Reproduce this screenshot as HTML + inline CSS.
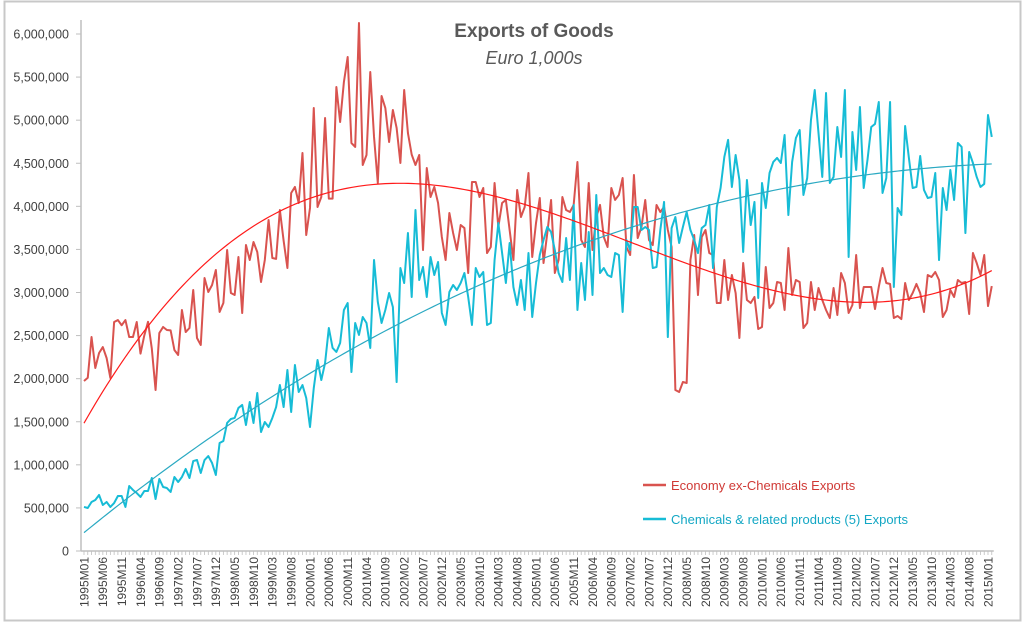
<!DOCTYPE html>
<html><head><meta charset="utf-8">
<style>
html,body{margin:0;padding:0;background:#fff;}
svg{display:block;font-family:"Liberation Sans",sans-serif;}
</style></head>
<body>
<svg id="chart" width="1023" height="626" viewBox="0 0 1023 626" xmlns="http://www.w3.org/2000/svg">
<rect x="4.5" y="1.5" width="1016" height="619" fill="#fff" stroke="#c8c8c8" stroke-width="2"/>
<text x="534" y="37" text-anchor="middle" font-size="19" font-weight="bold" fill="#595959">Exports of Goods</text>
<text x="534" y="64" text-anchor="middle" font-size="18" font-style="italic" fill="#595959">Euro 1,000s</text>
<g id="yaxis"></g>
<g id="xaxis"></g>
<g id="series"></g>
<g>
<line x1="643" y1="485" x2="666" y2="485" stroke="#d9534f" stroke-width="2.5"/>
<text x="671" y="490" font-size="13" fill="#d03a36">Economy ex-Chemicals Exports</text>
<line x1="643" y1="519" x2="666" y2="519" stroke="#17bcd6" stroke-width="2.5"/>
<text x="671" y="524" font-size="13" fill="#13a7c4">Chemicals &amp; related products (5) Exports</text>
</g>
</svg>
<script>
const yTicks = [0,500000,1000000,1500000,2000000,2500000,3000000,3500000,4000000,4500000,5000000,5500000,6000000];
const yTickLabels = ["0","500,000","1,000,000","1,500,000","2,000,000","2,500,000","3,000,000","3,500,000","4,000,000","4,500,000","5,000,000","5,500,000","6,000,000"];
const startYear = 1995;
const economyValues = [1973,2011,2483,2124,2298,2367,2240,2008,2658,2680,2620,2680,2483,2483,2658,2290,2500,2660,2350,1868,2530,2600,2565,2560,2333,2275,2797,2541,2588,3029,2472,2391,3168,3006,3087,3261,2774,2878,3493,2994,2971,
3412,2762,3551,3377,3586,3470,3122,3377,3841,3400,3390,3957,3600,3284,4155,4225,4039,4619,3667,3981,5141,3992,4108,5025,4090,4090,5385,4979,5443,5733,4735,4689,6128,4480,4596,5559,4805,4271,5281,5141,4747,5118,4909,4503,5350,
4850,
4600,4480,4596,3493,4445,4108,4225,4039,3644,3377,3923,3690,3493,3783,3748,3226,4283,4283,4108,4213,3458,3528,4271,3760,4039,4074,3725,3377,4190,3876,3992,4387,3412,3806,4097,3342,3690,4074,3226,3377,4108,3957,
3934,4016,4515,3609,3528,4271,3493,3876,4016,3644,3528,4213,4074,4132,4329,3528,3435,4364,3632,3760,4074,3609,3551,4016,3934,3992,3725,3528,1868,1845,1961,1950,3377,3667,2971,3644,3725,3458,3435,2878,2878,3377,2913,
3203,2994,2472,3342,2913,2878,2948,2576,2600,3296,2820,2878,3122,3110,2797,3516,2971,3145,3122,2588,2646,3122,2797,3052,2913,2797,2704,3052,2739,3226,3110,2762,2855,3435,2820,3064,3064,
3064,
2808,3064,3284,3110,3099,2704,2727,2692,3110,2913,2994,3099,2994,2774,3203,3180,3238,3145,2716,2797,3029,2948,3145,3110,3122,2750,3458,3342,3203,3435,2843,3075];
const chemicalsValues = [511,499,569,592,650,534,569,511,557,638,638,511,754,708,673,627,696,696,847,603,836,743,731,685,859,801,859,952,847,1044,1056,905,1056,1102,1021,882,1253,1277,1486,1532,1544,1660,1695,1462,1729,
1486,1834,1381,1497,1439,1544,1671,1926,1671,2101,1613,2159,1845,1926,1776,1439,1891,2217,1984,2182,2588,2356,2310,2414,2797,2878,2077,2646,2507,2716,2646,2356,3377,2890,2646,2797,2994,2832,1961,3284,3110,3690,
2948,3957,3145,3296,2948,3412,3203,3354,2762,2623,3006,3087,3029,3110,3226,2948,2623,3284,3180,3238,2623,2646,3377,3806,3458,3110,3574,3064,2855,3145,2797,3458,2716,3110,3435,3609,3760,3702,3493,3226,3122,3632,3145,
4016,2797,3342,2913,3702,2971,4132,3226,3284,3203,3180,3458,3435,2774,3609,3493,3992,3992,3725,3760,3725,3284,3296,3725,4051,2483,3748,3876,3574,3760,3934,3725,3609,3458,3748,3783,4016,3284,3992,4213,4573,4771,
4225,4596,4306,3470,4306,3783,4051,2936,4271,3981,4387,4515,4561,4503,4828,3899,4515,4793,4886,4132,4329,5002,5350,4852,4341,5315,4271,4341,4921,4573,5350,3412,4863,4422,5153,4213,4538,4921,
4956,5211,4155,4329,5211,3064,3981,3899,4933,4561,4213,4225,4584,4190,4097,4108,4387,3377,4213,3957,4422,4074,4735,4689,3690,4631,4503,4341,4225,4260,5060,4805];

const NS="http://www.w3.org/2000/svg";
const X0=84, X240=988, Y0=551, YTOP=34;
function xScale(i){return X0+i*(X240-X0)/240;}
function yScale(v){return Y0-v/6000000*(Y0-YTOP);}
function mk(tag,attrs,parent){const e=document.createElementNS(NS,tag);for(const k in attrs)e.setAttribute(k,attrs[k]);parent.appendChild(e);return e;}
function monthLabel(i){const y=startYear+Math.floor(i/12);const m=i%12+1;return y+"M"+(m<10?"0":"")+m;}

const yg=document.getElementById('yaxis');
const yl=mk('line',{x1:81,y1:20,x2:81,y2:Y0,stroke:'#bfbfbf','stroke-width':1.5},yg);


yTicks.forEach((t,k)=>{
  const y=yScale(t);
  const tk=mk('line',{x1:76,y1:y,x2:81,y2:y,stroke:'#bfbfbf','stroke-width':1},yg);
  
  
  const tx=mk('text',{x:69,y:y+4.5,'text-anchor':'end','font-size':12.5,fill:'#404040'},yg);
  
  
  tx.textContent=yTickLabels[k];
});

const xg=document.getElementById('xaxis');
const n=economyValues.length;
const xl=mk('line',{x1:81,y1:Y0,x2:xScale(n-1)+2,y2:Y0,stroke:'#bfbfbf','stroke-width':1.5},xg);


for(let i=0;i<n;i++){
  const x=xScale(i);
  const tk=mk('line',{x1:x,y1:Y0,x2:x,y2:Y0+4,stroke:'#bfbfbf','stroke-width':0.8},xg);
  
  
  if(i%5===0 && i<=240){
    const tx=mk('text',{x:0,y:0,'text-anchor':'end','font-size':12,fill:'#404040',transform:'translate('+(x+4.3)+','+(Y0+6)+') rotate(-90)'},xg);
    
    
    tx.textContent=monthLabel(i);
  }
}

function polyFit(vals,deg){
  const m=deg+1, A=[], b=[];
  for(let r=0;r<m;r++){A.push(new Array(m).fill(0));b.push(0);}
  vals.forEach((v,i)=>{const t=i/(vals.length-1);const p=[];for(let k=0;k<m;k++)p.push(Math.pow(t,k));
    for(let r=0;r<m;r++){b[r]+=p[r]*v;for(let c=0;c<m;c++)A[r][c]+=p[r]*p[c];}});
  for(let c=0;c<m;c++){let piv=c;for(let r=c+1;r<m;r++)if(Math.abs(A[r][c])>Math.abs(A[piv][c]))piv=r;
    [A[c],A[piv]]=[A[piv],A[c]];[b[c],b[piv]]=[b[piv],b[c]];
    for(let r=0;r<m;r++){if(r===c)continue;const f=A[r][c]/A[c][c];for(let k=c;k<m;k++)A[r][k]-=f*A[c][k];b[r]-=f*b[c];}}
  const coef=b.map((v,i)=>v/A[i][i]);
  return vals.map((_,i)=>{const t=i/(vals.length-1);let s=0;for(let k=0;k<m;k++)s+=coef[k]*Math.pow(t,k);return s;});
}
function pathOf(vals){return vals.map((v,i)=>(i?'L':'M')+xScale(i).toFixed(2)+','+yScale(v*1000).toFixed(2)).join('');}

const sg=document.getElementById('series');
const p1=mk('path',{d:pathOf(economyValues),fill:'none',stroke:'#d9534f','stroke-width':2,'stroke-linejoin':'round'},sg);


const p2=mk('path',{d:pathOf(chemicalsValues),fill:'none',stroke:'#17bcd6','stroke-width':2,'stroke-linejoin':'round'},sg);


const t1=mk('path',{d:pathOf(polyFit(economyValues,3)),fill:'none',stroke:'#ff1a1a','stroke-width':1.2},sg);


const t2=mk('path',{d:pathOf(polyFit(chemicalsValues,3)),fill:'none',stroke:'#2aa9c2','stroke-width':1.2},sg);


</script>
</body></html>
